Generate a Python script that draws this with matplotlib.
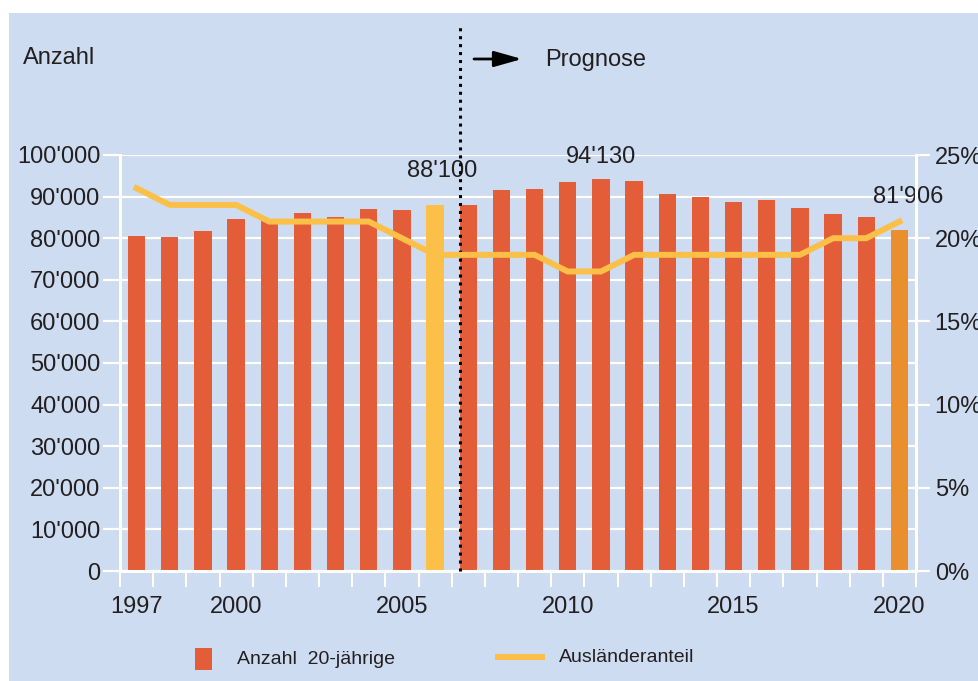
import matplotlib
matplotlib.use("Agg")
import matplotlib.pyplot as plt
from matplotlib.patches import Rectangle
from matplotlib.lines import Line2D
from matplotlib.ticker import FuncFormatter

plt.rcParams['font.family'] = ['Liberation Sans', 'DejaVu Sans']

# --- data ---
years = list(range(1997, 2021))
anzahl = [80500, 80300, 81800, 84600, 84500, 86100, 85100, 87000, 86800, 88100,
          88000, 91600, 91800, 93500, 94130, 93750, 90600, 89900, 88700, 89200,
          87300, 85900, 85000, 81906]
auslaender = [23, 22, 22, 22, 21, 21, 21, 21, 20, 19,
              19, 19, 19, 18, 18, 19, 19, 19, 19, 19,
              19, 20, 20, 21]
labelled = {2006: "88'100", 2011: "94'130", 2020: "81'906"}
label_offset = {2006: (5, 19.5), 2011: (0, 12), 2020: (6, 19.5)}
prognose_start = 2007

# --- colours ---
BG = "#CDDCF0"
RED = "#E35D38"
YELLOW = "#FCBF47"
ORANGE = "#E98F2E"
TXT = "#231F20"

W, H = 979, 681
fig = plt.figure(figsize=(W / 100, H / 100), dpi=100)
fig.patch.set_facecolor("white")
fig.add_artist(Rectangle((9 / W, 0), 1, 1 - 13 / H, transform=fig.transFigure,
                         facecolor=BG, edgecolor="none", zorder=-1))

def fx(px):
    return px / W

def fy(py):
    return 1 - py / H

ax = fig.add_axes([fx(120), fy(571), fx(916) - fx(120), fy(155) - fy(571)])
ax.set_facecolor("none")

colors = []
for y in years:
    if y == 2006:
        colors.append(YELLOW)
    elif y == 2020:
        colors.append(ORANGE)
    else:
        colors.append(RED)
ax.bar(years, anzahl, width=0.52, color=colors, zorder=2)

ax.set_xlim(years[0] - 0.5, years[-1] + 0.5)
ax.set_ylim(0, 100000)
ax.set_yticks(range(0, 100001, 10000))
ax.yaxis.set_major_formatter(FuncFormatter(
    lambda v, p: "0" if v == 0 else f"{int(v) // 1000}'000"))
ax.grid(axis="y", color="white", lw=1.6, zorder=0)
ax.set_axisbelow(True)

ax.set_xticks([1997, 2000, 2005, 2010, 2015, 2020])
ax.set_xticks([y - 0.5 for y in years] + [years[-1] + 0.5], minor=True)
ax.tick_params(axis="x", which="major", length=0, pad=18, labelsize=17, labelcolor=TXT)
ax.tick_params(axis="x", which="minor", length=11.5, width=1.5, color="white", direction="out")
ax.tick_params(axis="y", length=12, width=1.6, color="white", pad=2, labelsize=17, labelcolor=TXT)

ax.spines["top"].set_visible(False)
for s in ["left", "bottom", "right"]:
    ax.spines[s].set_color("white")
    ax.spines[s].set_linewidth(2.2)

# right axis with the share of foreigners
ax2 = ax.twinx()
ax2.plot(years, auslaender, color=YELLOW, lw=4.3, solid_joinstyle="miter", zorder=3)
ax2.set_ylim(0, 25)
ax2.set_yticks(range(0, 26, 5))
ax2.yaxis.set_major_formatter(FuncFormatter(lambda v, p: f"{int(v)}%"))
ax2.tick_params(axis="y", length=10, width=1.6, color="white", pad=3.5, labelsize=17, labelcolor=TXT)
for s in ["top", "left", "bottom"]:
    ax2.spines[s].set_visible(False)
ax2.spines["right"].set_color("white")
ax2.spines["right"].set_linewidth(2.2)

# value labels
for y, txt in labelled.items():
    v = anzahl[years.index(y)]
    dx, dy = label_offset[y]
    ax.annotate(txt, xy=(y, v), xytext=(dx, dy), textcoords="offset points",
                ha="center", va="baseline", fontsize=17, color=TXT)

# forecast marker
ax.axvline(prognose_start - 0.25, ymin=0, ymax=(571 - 25) / (571 - 155), color="black",
           lw=2.2, linestyle=(0, (1, 1.6)), clip_on=False, zorder=4)
ax.annotate("", xy=(fx(522), fy(59)), xytext=(fx(474), fy(59)), xycoords="figure fraction",
            arrowprops=dict(arrowstyle="-|>,head_length=0.85,head_width=0.24",
                            color="black", lw=2, mutation_scale=20, shrinkA=0, shrinkB=0))
fig.text(fx(545), fy(60), "Prognose", fontsize=17, color=TXT, va="center", ha="left")
fig.text(fx(23), fy(58), "Anzahl", fontsize=17, color=TXT, va="center", ha="left")

# legend, drawn by hand
fig.add_artist(Rectangle((fx(195), fy(670)), fx(212) - fx(195), fy(648) - fy(670),
                         transform=fig.transFigure, facecolor=RED, edgecolor="none"))
fig.text(fx(237), fy(659), "Anzahl  20-jährige", fontsize=14, color=TXT, va="center", ha="left")
fig.add_artist(Line2D([fx(498), fx(542)], [fy(657), fy(657)], transform=fig.transFigure,
                      color=YELLOW, lw=4.3))
fig.text(fx(559), fy(657), "Ausländeranteil", fontsize=14, color=TXT, va="center", ha="left")

fig.savefig("out.png", dpi=100)
